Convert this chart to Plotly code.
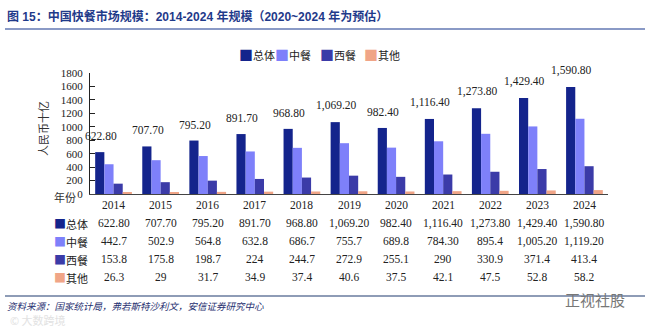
import plotly.graph_objects as go

# China fast-food market size, RMB billion (2020-2024 estimated)
years = ["2014", "2015", "2016", "2017", "2018", "2019", "2020", "2021", "2022", "2023", "2024"]
total = [622.80, 707.70, 795.20, 891.70, 968.80, 1069.20, 982.40, 1116.40, 1273.80, 1429.40, 1590.80]
chinese = [442.7, 502.9, 564.8, 632.8, 686.7, 755.7, 689.8, 784.30, 895.4, 1005.20, 1119.20]
western = [153.8, 175.8, 198.7, 224, 244.7, 272.9, 255.1, 290, 330.9, 371.4, 413.4]
other = [26.3, 29, 31.7, 34.9, 37.4, 40.6, 37.5, 42.1, 47.5, 52.8, 58.2]

series_names = ["总体", "中餐", "西餐", "其他"]
series_values = [total, chinese, western, other]
series_colors = ["#14248C", "#7E80FA", "#3B3BA8", "#F0A587"]

# table text for each row (as printed)
table_text = [
    ["622.80", "707.70", "795.20", "891.70", "968.80", "1,069.20", "982.40", "1,116.40", "1,273.80", "1,429.40", "1,590.80"],
    ["442.7", "502.9", "564.8", "632.8", "686.7", "755.7", "689.8", "784.30", "895.4", "1,005.20", "1,119.20"],
    ["153.8", "175.8", "198.7", "224", "244.7", "272.9", "255.1", "290", "330.9", "371.4", "413.4"],
    ["26.3", "29", "31.7", "34.9", "37.4", "40.6", "37.5", "42.1", "47.5", "52.8", "58.2"],
]

W, H = 646, 328
L, R, T, B = 90, 608, 73, 194  # plot-area pixel box

def px(x):
    return (x - L) / (R - L)

def py(y):
    return (B - y) / (B - T)

SERIF = "Liberation Serif, Noto Sans CJK SC, serif"
CJK = "Noto Sans CJK SC, sans-serif"

fig = go.Figure()
for name, vals, col in zip(series_names, series_values, series_colors):
    fig.add_trace(go.Bar(x=years, y=vals, name=name, marker=dict(color=col, line=dict(width=0)),
                         showlegend=False))

ann = []
# value labels above the total bars (category index = position on the axis)
for i, (v, t) in enumerate(zip(total, table_text[0])):
    ann.append(dict(x=i, y=v, xref="x", yref="y", text=t, showarrow=False,
                    xshift=-13, yshift=8, yanchor="bottom",
                    font=dict(family=SERIF, size=11.5, color="#222")))

# legend row at the top
legend_x = [237, 273, 318, 362]
for name, col, lx in zip(series_names, series_colors, legend_x):
    ann.append(dict(x=px(lx), y=py(54), xref="paper", yref="paper", showarrow=False,
                    xanchor="left", yanchor="middle",
                    text=f"<span style='color:{col};font-size:14px'>■</span>{name}",
                    font=dict(family=CJK, size=11, color="#222")))

# data table under the axis
row_y = [223, 241, 259, 277]
for i, yr in enumerate(years):
    ann.append(dict(x=i, y=py(205), xref="x", yref="paper", text=yr, showarrow=False,
                    yanchor="middle", font=dict(family=SERIF, size=11.5, color="#222")))
for name, col, ry, texts in zip(series_names, series_colors, row_y, table_text):
    ann.append(dict(x=px(52), y=py(ry), xref="paper", yref="paper", showarrow=False,
                    xanchor="left", yanchor="middle",
                    text=f"<span style='color:{col};font-size:12px'>■</span>{name}",
                    font=dict(family=CJK, size=11, color="#222")))
    for i, t in enumerate(texts):
        ann.append(dict(x=i, y=py(ry), xref="x", yref="paper", text=t, showarrow=False,
                        yanchor="middle", font=dict(family=SERIF, size=11.5, color="#222")))

# axis captions
ann.append(dict(x=px(33), y=py(129), xref="paper", yref="paper", text="人民币十亿", showarrow=False,
                textangle=-90, font=dict(family=CJK, size=11, color="#333")))
ann.append(dict(x=px(52), y=py(197), xref="paper", yref="paper", text="年份", showarrow=False,
                yanchor="middle", font=dict(family=CJK, size=11, color="#333")))

# title and source
ann.append(dict(x=px(5), y=py(16), xref="paper", yref="paper", xanchor="left", yanchor="middle",
                showarrow=False,
                text="<b>图 15：中国快餐市场规模：2014-2024 年规模（2020~2024 年为预估）</b>",
                font=dict(family="Liberation Sans, Noto Sans CJK SC, sans-serif", size=12, color="#1F3A8A")))
ann.append(dict(x=px(5), y=py(306), xref="paper", yref="paper", xanchor="left", yanchor="middle",
                showarrow=False,
                text="<i>资料来源：国家统计局，弗若斯特沙利文，安信证券研究中心</i>",
                font=dict(family=CJK, size=9.5, color="#1F3070")))
ann.append(dict(x=px(563), y=py(299), xref="paper", yref="paper", xanchor="left", yanchor="middle",
                showarrow=False, text="正视社股",
                font=dict(family=CJK, size=15, color="#777")))
ann.append(dict(x=px(8), y=py(320), xref="paper", yref="paper", xanchor="left", yanchor="middle",
                showarrow=False, text="© 大数跨境",
                font=dict(family=CJK, size=11, color="#E2E2E2")))

shapes = [
    dict(type="line", xref="paper", yref="paper", x0=px(5), x1=px(645), y0=py(29), y1=py(29),
         line=dict(color="#8A9AC6", width=2)),
    dict(type="line", xref="paper", yref="paper", x0=px(5), x1=px(645), y0=py(296), y1=py(296),
         line=dict(color="#1F3A6E", width=1.2)),
]

fig.update_layout(
    width=W, height=H,
    margin=dict(l=L, r=W - R, t=T, b=H - B, pad=0),
    paper_bgcolor="white", plot_bgcolor="white",
    barmode="group", bargap=0.22, bargroupgap=0,
    showlegend=False,
    annotations=ann, shapes=shapes,
    xaxis=dict(type="category", range=[-0.5, len(years) - 0.5], autorange=False,
               showticklabels=False, ticks="", showgrid=False,
               showline=True, linecolor="#444", linewidth=1.2, zeroline=False),
    yaxis=dict(range=[0, 1800], autorange=False, dtick=200, showgrid=False, zeroline=False,
               showline=True, linecolor="#222", linewidth=1, ticks="inside", ticklen=5,
               tickcolor="#222", ticklabelstandoff=4,
               tickfont=dict(family=SERIF, size=11, color="#222")),
)

fig.write_html("out.html")
